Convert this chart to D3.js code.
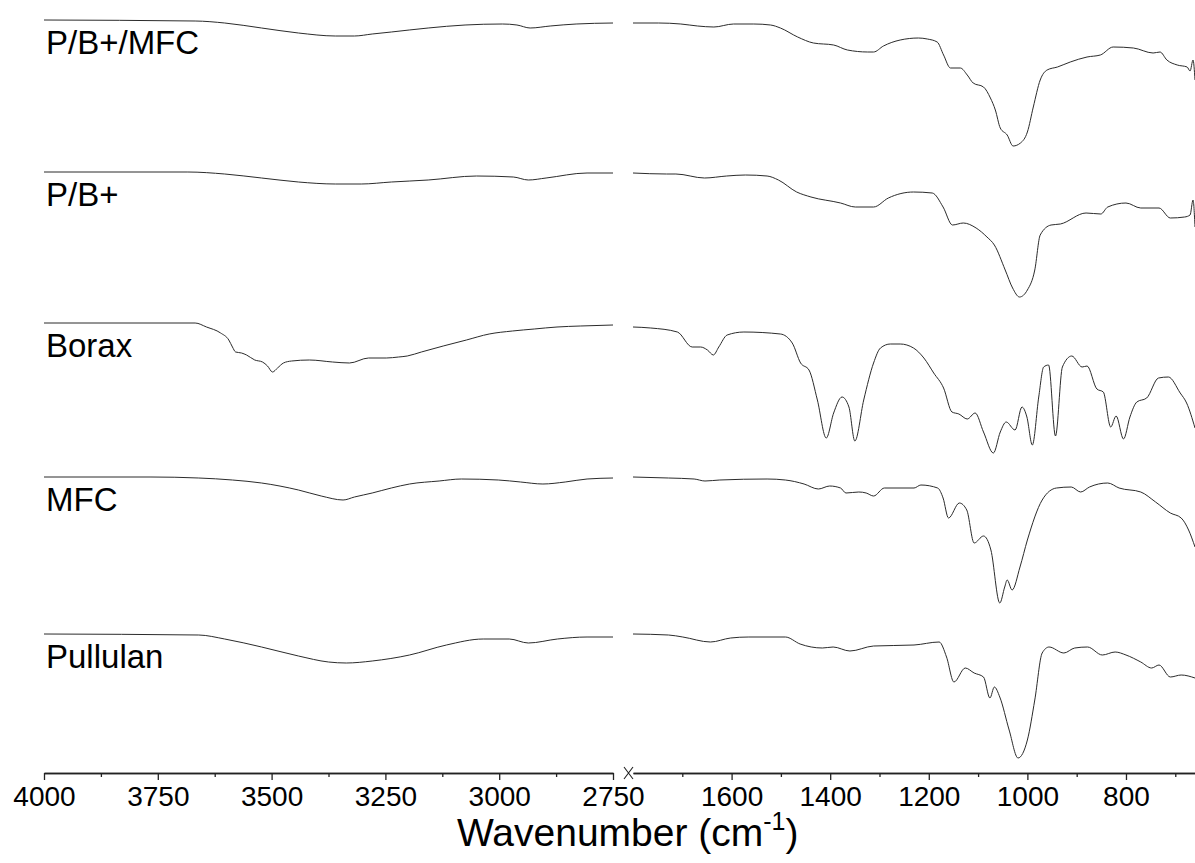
<!DOCTYPE html>
<meta charset="utf-8">
<body style="margin:0;background:#fff">
<script src="https://cdn.jsdelivr.net/npm/d3@7"></script>
<script>

// spectra names, top to bottom, and their vertical offsets (stacked, a.u.)
var names = ['P/B+/MFC', 'P/B+', 'Borax', 'MFC', 'Pullulan'];
var offsets = [75.3, 60.1, 45.0, 29.6, 13.9];

// [wavenumber, transmittance change] : 4000-2750 part
var pbmfcHigh = [[4000,0],[3668,-0.1],[3603,-0.3],[3522,-0.8],[3441,-1.3],[3360,-1.6],[3318,-1.6],[3279,-1.4],[3237,-1.2],[3156,-0.8],[3075,-0.5],[2993,-0.4],[2961,-0.5],[2932,-0.8],[2888,-0.6],[2831,-0.4],[2750,-0.3]];
var pbHigh = [[4000,0],[3684,0],[3603,-0.2],[3522,-0.6],[3441,-1.0],[3360,-1.2],[3303,-1.2],[3237,-1.0],[3156,-0.8],[3050,-0.4],[2969,-0.5],[2936,-0.8],[2897,-0.6],[2807,-0.1],[2750,-0.1]];
var boraxHigh = [[4000,0],[3668,0],[3643,-0.4],[3612,-1.0],[3594,-1.7],[3586,-2.4],[3579,-2.9],[3566,-3.0],[3555,-3.2],[3537,-3.7],[3520,-3.9],[3509,-4.3],[3498,-4.9],[3487,-4.5],[3474,-4.0],[3456,-3.8],[3417,-3.7],[3366,-3.9],[3329,-4.0],[3287,-3.5],[3248,-3.5],[3221,-3.4],[3202,-3.3],[3171,-2.9],[3123,-2.3],[3072,-1.7],[3022,-1.1],[2971,-0.8],[2923,-0.6],[2873,-0.4],[2822,-0.3],[2750,-0.2]];
var mfcHigh = [[4000,0],[3765,0],[3660,-0.1],[3586,-0.3],[3522,-0.6],[3441,-1.3],[3391,-1.9],[3343,-2.3],[3318,-2.0],[3279,-1.6],[3237,-1.1],[3197,-0.7],[3132,-0.4],[3083,-0.2],[3002,-0.3],[2953,-0.5],[2904,-0.7],[2855,-0.5],[2807,-0.2],[2750,-0.1]];
var pullHigh = [[4000,0],[3660,-0.1],[3603,-0.5],[3522,-1.3],[3441,-2.2],[3375,-2.8],[3336,-2.9],[3279,-2.7],[3197,-2.1],[3116,-1.1],[3035,-0.5],[2978,-0.5],[2936,-0.9],[2872,-0.5],[2807,-0.3],[2750,-0.3]];

// 1800-660 part
var pbmfcLow = [[1800,-0.3],[1748,-0.3],[1703,-0.4],[1669,-0.6],[1636,-0.7],[1596,-0.4],[1555,-0.4],[1521,-0.5],[1501,-0.8],[1466,-1.7],[1434,-2.3],[1393,-2.5],[1365,-3.0],[1324,-3.2],[1312,-3.2],[1292,-2.6],[1258,-2.0],[1221,-1.8],[1203,-1.9],[1183,-2.2],[1170,-3.5],[1156,-4.8],[1136,-4.8],[1122,-5.5],[1110,-6.3],[1089,-6.7],[1075,-7.8],[1065,-9.0],[1055,-10.8],[1041,-11.5],[1029,-12.6],[1014,-12.3],[1000,-11.2],[988,-8.7],[974,-6.0],[960,-5.0],[939,-4.7],[913,-4.2],[879,-3.7],[852,-3.5],[826,-2.7],[785,-2.8],[745,-3.3],[731,-3.2],[717,-4.0],[696,-4.5],[676,-4.7],[670,-5.1],[664,-4.0],[660,-6.0]];
var pbLow = [[1800,-0.1],[1732,-0.2],[1713,-0.2],[1655,-0.6],[1610,-0.4],[1572,-0.3],[1528,-0.4],[1505,-0.8],[1468,-2.0],[1439,-2.5],[1379,-3.1],[1349,-3.5],[1312,-3.5],[1282,-2.6],[1231,-2.0],[1193,-2.1],[1171,-3.5],[1152,-5.3],[1130,-5.1],[1104,-5.6],[1082,-6.5],[1067,-7.3],[1045,-9.8],[1030,-11.6],[1016,-12.5],[1000,-11.8],[985,-9.8],[974,-6.3],[952,-5.3],[933,-5.2],[881,-4.1],[851,-4.2],[837,-3.5],[800,-3.1],[770,-3.6],[733,-3.6],[710,-4.6],[681,-4.5],[670,-4.3],[664,-2.8],[660,-5.5]];
var boraxLow = [[1800,-0.4],[1764,-0.5],[1710,-0.9],[1680,-2.4],[1663,-2.4],[1649,-2.7],[1637,-3.2],[1626,-2.4],[1609,-1.2],[1575,-0.9],[1501,-1.1],[1477,-2.0],[1460,-4.0],[1443,-4.7],[1426,-7.7],[1408,-11.5],[1393,-9.0],[1376,-7.4],[1362,-8.4],[1350,-11.8],[1332,-7.7],[1312,-4.0],[1298,-2.5],[1278,-2.1],[1258,-2.1],[1231,-2.5],[1210,-3.5],[1190,-5.0],[1170,-6.5],[1153,-8.9],[1139,-9.1],[1122,-9.6],[1106,-9.0],[1089,-10.9],[1069,-13.0],[1055,-10.9],[1043,-9.9],[1025,-10.7],[1011,-8.4],[1001,-9.4],[990,-12.2],[977,-7.4],[967,-4.4],[957,-4.2],[943,-11.3],[929,-4.4],[910,-3.3],[889,-4.4],[879,-4.3],[859,-6.6],[846,-6.9],[831,-10.4],[820,-9.3],[805,-11.6],[792,-9.4],[778,-7.9],[758,-7.5],[734,-5.5],[714,-5.4],[690,-7.0],[677,-8.0],[660,-10.5]];
var mfcLow = [[1800,0],[1728,-0.1],[1676,-0.2],[1654,-0.4],[1624,-0.3],[1528,-0.2],[1491,-0.3],[1453,-0.7],[1424,-1.2],[1401,-0.9],[1379,-1.1],[1368,-1.6],[1342,-1.5],[1327,-1.6],[1312,-1.9],[1290,-1.1],[1230,-1.1],[1216,-0.8],[1182,-1.1],[1171,-2.1],[1160,-4.1],[1138,-2.6],[1123,-3.3],[1108,-6.6],[1089,-5.9],[1074,-7.3],[1056,-12.6],[1046,-11.0],[1041,-10.3],[1031,-11.3],[1015,-9.0],[1000,-6.3],[970,-2.3],[941,-1.1],[911,-1.0],[892,-1.5],[874,-1.0],[837,-0.6],[814,-1.1],[770,-1.5],[740,-2.5],[710,-3.6],[688,-4.1],[673,-5.3],[660,-7.0]];
var pullLow = [[1800,0],[1728,-0.1],[1699,-0.3],[1643,-0.8],[1602,-0.4],[1565,-0.3],[1491,-0.3],[1461,-1.0],[1416,-1.4],[1394,-1.3],[1360,-1.7],[1312,-1.2],[1230,-1.1],[1179,-0.8],[1164,-2.3],[1149,-4.8],[1126,-3.4],[1108,-3.9],[1089,-4.3],[1076,-6.4],[1067,-5.3],[1056,-6.3],[1037,-9.6],[1019,-12.4],[1000,-10.6],[985,-6.6],[970,-1.9],[956,-1.3],[926,-1.9],[904,-1.4],[878,-1.3],[848,-2.1],[822,-1.8],[800,-2.1],[770,-2.8],[748,-3.4],[733,-3.1],[710,-4.3],[688,-4.1],[660,-4.4]];

var highTicks = [4000, 3750, 3500, 3250, 3000, 2750];
var highMinor = [3875, 3625, 3375, 3125, 2875];
var lowTicks = [1600, 1400, 1200, 1000, 800];
var lowMinor = [1700, 1500, 1300, 1100, 900, 700];

var W = 1195, H = 863;
var axisY = 773;

var svg = d3.select('body').append('svg')
    .attr('width', W)
    .attr('height', H)
    .style('font-family', '"Liberation Sans", Arial, sans-serif');

var xHigh = d3.scaleLinear().domain([4000, 2750]).range([44, 613]);
var xLow = d3.scaleLinear().domain([1800, 660]).range([633, 1195]);
var y = d3.scaleLinear().domain([0, 77.3]).range([axisY, 0]);

var high = [pbmfcHigh, pbHigh, boraxHigh, mfcHigh, pullHigh];
var low = [pbmfcLow, pbLow, boraxLow, mfcLow, pullLow];

function drawPart(data, x, off) {
  var line = d3.line()
      .x(d => x(d[0]))
      .y(d => y(off + d[1]))
      .curve(d3.curveMonotoneX);
  svg.append('path')
    .datum(data)
    .attr('d', line)
    .attr('fill', 'none')
    .attr('stroke', '#2b2b2b')
    .attr('stroke-width', 1)
    .attr('stroke-linejoin', 'round');
}

names.forEach((n, i) => {
  drawPart(high[i], xHigh, offsets[i]);
  drawPart(low[i], xLow, offsets[i]);
  svg.append('text')
    .attr('x', 46)
    .attr('y', y(offsets[i]) + 34)
    .attr('font-size', 33)
    .attr('fill', '#000')
    .text(n);
});

// axes
function drawAxis(x, ticks, minor) {
  var g = svg.append('g').attr('transform', `translate(0,${axisY})`);
  g.call(d3.axisBottom(x).tickValues(minor).tickSize(4).tickSizeOuter(0).tickFormat(''));
  var g2 = svg.append('g').attr('transform', `translate(0,${axisY})`);
  g2.call(d3.axisBottom(x).tickValues(ticks).tickSize(7).tickSizeOuter(0).tickPadding(6)
      .tickFormat(d3.format('d')));
  g2.selectAll('text').attr('font-size', 28).attr('fill', '#000')
      .attr('font-family', '"Liberation Sans", Arial, sans-serif');
  svg.selectAll('.domain, .tick line').attr('stroke', '#222').attr('stroke-width', 1.3);
}
drawAxis(xHigh, highTicks, highMinor);
drawAxis(xLow, lowTicks, lowMinor);

// break mark
var bx = 628.5;
svg.append('path')
  .attr('d', `M${bx-4.5},${axisY-6}L${bx+4.5},${axisY+6}M${bx-4.5},${axisY+6}L${bx+4.5},${axisY-6}`)
  .attr('stroke', '#222').attr('stroke-width', 1.1);

// x title
var title = svg.append('text')
  .attr('x', 457)
  .attr('y', 846)
  .attr('font-size', 39)
  .attr('fill', '#000');
title.append('tspan').text('Wavenumber (cm');
title.append('tspan').attr('font-size', 25).attr('dy', -16).text('-1');
title.append('tspan').attr('dy', 16).text(')');

</script>
</body>
